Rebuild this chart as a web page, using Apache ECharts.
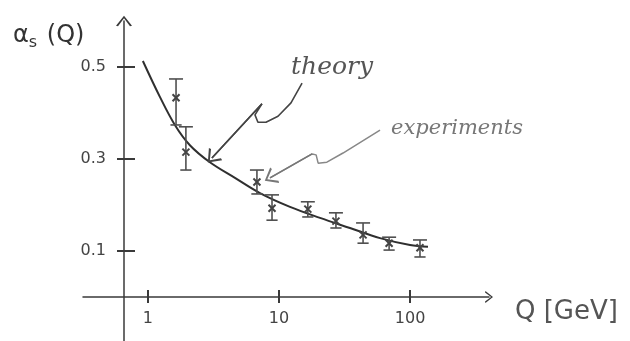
<!DOCTYPE html>
<html>
<head>
<meta charset="utf-8">
<script src="https://cdn.jsdelivr.net/npm/echarts@6/dist/echarts.min.js"></script>
<style>html,body{margin:0;padding:0;background:#fff;}#c{width:630px;height:341px;}</style>
</head>
<body>
<div id="c"></div>
<script>
// ---- data ----
const xTicks = [1, 10, 100];
const yTicks = [0.1, 0.3, 0.5];
// theory curve alpha_s(Q)
const theoryQ = [0.916, 1.235, 1.607, 2.092, 2.973, 4.615, 7.16, 12.13, 20.56, 34.8, 59.0, 100, 137];
const theoryA = [0.513, 0.435, 0.374, 0.330, 0.293, 0.259, 0.226, 0.196, 0.172, 0.150, 0.128, 0.113, 0.109];
// experiments: Q, central value, low, high
const expQ    = [1.64, 1.95, 6.79, 8.85, 16.6, 27.2, 43.8, 69.2, 119];
const expVal  = [0.433, 0.315, 0.250, 0.193, 0.191, 0.165, 0.135, 0.117, 0.107];
const expLow  = [0.374, 0.276, 0.224, 0.167, 0.174, 0.150, 0.117, 0.102, 0.087];
const expHigh = [0.474, 0.370, 0.276, 0.222, 0.207, 0.183, 0.161, 0.130, 0.124];
// annotation arrows (data coordinates)
const theoryArrowQ = [15.0, 12.35, 9.83, 7.96, 6.91, 6.56, 7.42, 3.08];
const theoryArrowA = [0.465, 0.422, 0.393, 0.380, 0.380, 0.396, 0.420, 0.302];
const expArrowQ = [59.0, 30.8, 23.2, 19.9, 19.2, 17.9, 8.54];
const expArrowA = [0.363, 0.313, 0.293, 0.291, 0.309, 0.311, 0.259];

const chevron = 'path://M0,10 L8,0 L16,10 L14,10.6 L8,2.6 L2,10.6 Z';
const axisColor = '#3a3a3a';

const chart = echarts.init(document.getElementById('c'), null, {renderer: 'canvas'});

const theoryData = theoryQ.map((q, i) => [q, theoryA[i]]);
const expData = expQ.map((q, i) => [q, expVal[i], expLow[i], expHigh[i]]);
const tArrow = theoryArrowQ.map((q, i) => [q, theoryArrowA[i]]);
const eArrow = expArrowQ.map((q, i) => [q, expArrowA[i]]);

const option = {
  animation: false,
  backgroundColor: '#fff',
  title: [
    {text: '{a|α}{s|s}{a| (Q)}', left: 8, top: 16,
     textStyle: {rich: {a: {fontSize: 24, color: '#333', fontWeight: 'normal', fontFamily: 'DejaVu Sans', height: 30, verticalAlign: 'top'},
                        s: {fontSize: 16, color: '#333', fontWeight: 'normal', fontFamily: 'DejaVu Sans', padding: [14, 2, 0, 0]}}}},
    {text: 'theory', left: 286, top: 50, textStyle: {fontSize: 25, fontStyle: 'italic', fontWeight: 'normal', color: '#555', fontFamily: 'DejaVu Serif'}},
    {text: 'experiments', left: 386, top: 113, textStyle: {fontSize: 21, fontStyle: 'italic', fontWeight: 'normal', color: '#777', fontFamily: 'DejaVu Serif'}},
    {text: 'Q [GeV]', left: 510, top: 294, textStyle: {fontSize: 26, fontWeight: 'normal', color: '#555', fontFamily: 'DejaVu Sans'}}
  ],
  grid: {left: 83, right: 141, top: 21, bottom: -2, containLabel: false, outerBoundsMode: 'none'},
  xAxis: [
    {type: 'log', logBase: 10, min: 0.32, max: 400, position: 'bottom', offset: -46,
     axisLine: {show: true, onZero: false, symbol: ['none', chevron], symbolSize: [17, 8], lineStyle: {color: axisColor, width: 1.5}},
     axisTick: {show: true, length: 6, customValues: xTicks, lineStyle: {color: axisColor, width: 2}},
     axisLabel: {show: true, customValues: xTicks, margin: 14, fontSize: 16, color: '#444', fontFamily: 'DejaVu Sans', formatter: v => String(v)},
     splitLine: {show: false}, minorTick: {show: false}},
    {type: 'log', logBase: 10, min: 0.32, max: 400, position: 'bottom', offset: -46,
     axisLine: {show: false, onZero: false},
     axisTick: {show: true, inside: true, length: 7, customValues: xTicks, lineStyle: {color: axisColor, width: 2}},
     axisLabel: {show: false}, splitLine: {show: false}}
  ],
  yAxis: [
    {type: 'value', min: -0.1, max: 0.6, position: 'left', offset: -41,
     axisLine: {show: true, onZero: false, symbol: ['none', chevron], symbolSize: [16, 11], lineStyle: {color: axisColor, width: 1.5}},
     axisTick: {show: true, length: 7, customValues: yTicks, lineStyle: {color: axisColor, width: 2}},
     axisLabel: {show: true, customValues: yTicks, margin: 18, fontSize: 16, color: '#444', fontFamily: 'DejaVu Sans', formatter: v => v.toFixed(1)},
     splitLine: {show: false}},
    {type: 'value', min: -0.1, max: 0.6, position: 'left', offset: -41,
     axisLine: {show: false, onZero: false},
     axisTick: {show: true, inside: true, length: 11, customValues: yTicks, lineStyle: {color: axisColor, width: 2}},
     axisLabel: {show: false}, splitLine: {show: false}}
  ],
  series: [
    {type: 'line', name: 'theory', data: theoryData, smooth: 0.35, showSymbol: false,
     lineStyle: {color: '#2f2f2f', width: 2}, z: 3},
    {type: 'custom', name: 'experiments', data: expData, encode: {x: 0, y: 1},
     renderItem: function (params, api) {
       const q = api.value(0);
       const c = api.coord([q, api.value(1)]);
       const lo = api.coord([q, api.value(2)]);
       const hi = api.coord([q, api.value(3)]);
       const w = 7, m = 3.5;
       const st = {stroke: '#505050', lineWidth: 1.6};
       return {type: 'group', children: [
         {type: 'line', shape: {x1: hi[0], y1: hi[1], x2: lo[0], y2: lo[1]}, style: st},
         {type: 'line', shape: {x1: hi[0] - w, y1: hi[1], x2: hi[0] + w, y2: hi[1]}, style: st},
         {type: 'line', shape: {x1: lo[0] - w * 0.8, y1: lo[1], x2: lo[0] + w * 0.8, y2: lo[1]}, style: st},
         {type: 'line', shape: {x1: c[0] - m, y1: c[1] - m, x2: c[0] + m, y2: c[1] + m}, style: {stroke: '#444', lineWidth: 2}},
         {type: 'line', shape: {x1: c[0] - m, y1: c[1] + m, x2: c[0] + m, y2: c[1] - m}, style: {stroke: '#444', lineWidth: 2}}
       ]};
     }, z: 4},
    {type: 'line', name: 'theoryArrow', data: tArrow, smooth: false, showSymbol: false,
     lineStyle: {color: '#444', width: 1.6}, z: 2,
     markLine: {silent: true, symbol: ['none', chevron], symbolSize: [18, 12], label: {show: false},
       lineStyle: {color: '#444', width: 1.6, type: 'solid'},
       data: [[{coord: tArrow[tArrow.length - 2]}, {coord: tArrow[tArrow.length - 1]}]]}},
    {type: 'line', name: 'expArrow', data: eArrow, smooth: false, showSymbol: false,
     lineStyle: {color: '#888', width: 1.5}, z: 2,
     markLine: {silent: true, symbol: ['none', chevron], symbolSize: [18, 12], label: {show: false},
       lineStyle: {color: '#777', width: 1.5, type: 'solid'},
       data: [[{coord: eArrow[eArrow.length - 2]}, {coord: eArrow[eArrow.length - 1]}]]}}
  ]
};
chart.setOption(option);
</script>
</body>
</html>
